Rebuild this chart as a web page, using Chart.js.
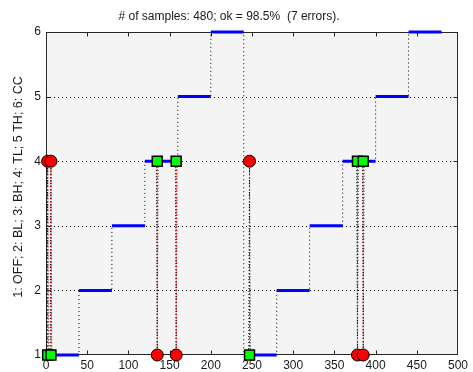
<!DOCTYPE html>
<html>
<head>
<meta charset="utf-8">
<script src="https://cdn.jsdelivr.net/npm/chart.js@4.4.1/dist/chart.umd.min.js"></script>
<style>
  html, body { margin: 0; padding: 0; background: #fff; }
  #wrap { width: 473px; height: 372px; }
</style>
</head>
<body>
<div id="wrap"><canvas id="myChart" width="473" height="372"></canvas></div>
<script>
// true class per block of 40 samples
const segLen = 40;
const trueLevels = [1, 2, 3, 4, 5, 6, 1, 2, 3, 4, 5, 6];
// misclassified samples and what was predicted there
const errSamples = [2, 6, 135, 158, 247, 378, 385];
const errPredicted = [4, 4, 1, 1, 4, 1, 1];
const xTicks = [0, 50, 100, 150, 200, 250, 300, 350, 400, 450, 500];
const yTicks = [1, 2, 3, 4, 5, 6];
const titleText = '# of samples: 480; ok = 98.5%  (7 errors).';
const yLabel = '1: OFF; 2: BL; 3: BH; 4: TL; 5 TH; 6: CC';

const FONT = '"Liberation Sans", Arial, Helvetica, sans-serif';
const txtColor = '#1a1a1a';

function trueAt(s) {
  return trueLevels[Math.min(Math.floor(s / segLen), trueLevels.length - 1)];
}

// thick blue pieces
var bluePts = [];
trueLevels.forEach(function (lv, i) {
  bluePts.push({x: i * segLen, y: lv}, {x: (i + 1) * segLen, y: lv}, {x: (i + 1) * segLen, y: null});
});
// dotted step line of the truth
var stepPts = [];
trueLevels.forEach(function (lv, i) {
  stepPts.push({x: i * segLen, y: lv}, {x: (i + 1) * segLen, y: lv});
});
// red vertical connectors + black dotted prediction zigzag
var redPts = [], predPts = [];
errSamples.forEach(function (s, i) {
  redPts.push({x: s, y: trueAt(s)}, {x: s, y: errPredicted[i]}, {x: s, y: null});
  predPts.push({x: s - 1, y: trueAt(s)}, {x: s, y: errPredicted[i]}, {x: s + 1, y: trueAt(s)}, {x: s + 1, y: null});
});
var greenPts = errSamples.map(function (s) { return {x: s, y: trueAt(s)}; });
var redMarks = errSamples.map(function (s, i) { return {x: s, y: errPredicted[i]}; });

const axesPlugin = {
  id: 'matlabAxes',
  beforeDatasetsDraw: function (chart) {
    const ctx = chart.ctx, a = chart.chartArea;
    const xs = chart.scales.x, ys = chart.scales.y;
    ctx.save();
    ctx.fillStyle = '#f4f4f4';
    ctx.fillRect(a.left, a.top, a.right - a.left, a.bottom - a.top);
    // horizontal dotted grid
    ctx.strokeStyle = '#000';
    ctx.lineWidth = 1;
    ctx.setLineDash([1, 3]);
    yTicks.slice(1, -1).forEach(function (v) {
      const y = Math.round(ys.getPixelForValue(v)) + 0.5;
      ctx.beginPath(); ctx.moveTo(a.left, y); ctx.lineTo(a.right, y); ctx.stroke();
    });
    ctx.setLineDash([]);
    // box + inward ticks
    ctx.strokeStyle = '#262626';
    const L = Math.round(a.left) + 0.5, R = Math.round(a.right) - 0.5;
    const T = Math.round(a.top) + 0.5, B = Math.round(a.bottom) - 0.5;
    ctx.strokeRect(L, T, R - L, B - T);
    const tl = 4;
    ctx.beginPath();
    xTicks.slice(1, -1).forEach(function (v) {
      const x = Math.round(xs.getPixelForValue(v)) + 0.5;
      ctx.moveTo(x, B); ctx.lineTo(x, B - tl);
      ctx.moveTo(x, T); ctx.lineTo(x, T + tl);
    });
    yTicks.slice(1, -1).forEach(function (v) {
      const y = Math.round(ys.getPixelForValue(v)) + 0.5;
      ctx.moveTo(L, y); ctx.lineTo(L + tl, y);
      ctx.moveTo(R, y); ctx.lineTo(R - tl, y);
    });
    ctx.stroke();
    ctx.restore();
  },
  afterDraw: function (chart) {
    const ctx = chart.ctx;
    ctx.save();
    // y axis label, rotated
    ctx.translate(19, 187);
    ctx.rotate(-Math.PI / 2);
    ctx.fillStyle = txtColor;
    ctx.font = '12.5px ' + FONT;
    ctx.textAlign = 'center';
    ctx.textBaseline = 'middle';
    ctx.fillText(yLabel, 0, 0);
    ctx.restore();
  }
};

new Chart(document.getElementById('myChart').getContext('2d'), {
  type: 'line',
  data: {
    datasets: [
      {
        data: redMarks, showLine: false, order: 0, clip: false,
        pointStyle: 'circle', pointRadius: 6, pointBackgroundColor: '#ff0000',
        pointBorderColor: '#000', pointBorderWidth: 1
      },
      {
        data: greenPts, showLine: false, order: 1, clip: false,
        pointStyle: 'rect', pointRadius: 7, pointBackgroundColor: '#00ff00',
        pointBorderColor: '#000', pointBorderWidth: 1.5
      },
      {
        data: bluePts, order: 2, borderColor: '#0000ff', borderWidth: 3,
        pointRadius: 0, spanGaps: false, tension: 0, clip: false,
        borderCapStyle: 'butt'
      },
      {
        data: redPts, order: 3, borderColor: '#ff0000', borderWidth: 1,
        borderDash: [2, 2], pointRadius: 0, spanGaps: false
      },
      {
        data: predPts, order: 4, borderColor: '#000', borderWidth: 1,
        borderDash: [1, 2], pointRadius: 0, spanGaps: false
      },
      {
        data: stepPts, order: 5, borderColor: '#000', borderWidth: 1,
        borderDash: [1, 3], pointRadius: 0
      }
    ]
  },
  options: {
    responsive: false,
    animation: false,
    devicePixelRatio: 1,
    layout: { padding: { left: 0, right: 15, top: 0, bottom: 0 } },
    plugins: {
      legend: { display: false },
      tooltip: { enabled: false },
      title: {
        display: true, text: titleText, color: txtColor,
        font: { family: FONT, size: 12, weight: 'normal' },
        padding: { top: 9, bottom: 8.6 }
      }
    },
    scales: {
      x: {
        type: 'linear', min: 0, max: 500,
        grid: { display: false, drawTicks: false },
        border: { display: false },
        ticks: {
          stepSize: 50, padding: 3, color: txtColor, maxRotation: 0,
          font: { family: FONT, size: 12 }
        },
        afterFit: function (s) { s.height = 17; }
      },
      y: {
        min: 1, max: 6,
        grid: { display: false, drawTicks: false },
        border: { display: false },
        ticks: {
          stepSize: 1, padding: 5, color: txtColor,
          font: { family: FONT, size: 12 }
        },
        afterFit: function (s) { s.width = 46; }
      }
    }
  },
  plugins: [axesPlugin]
});
</script>
</body>
</html>
